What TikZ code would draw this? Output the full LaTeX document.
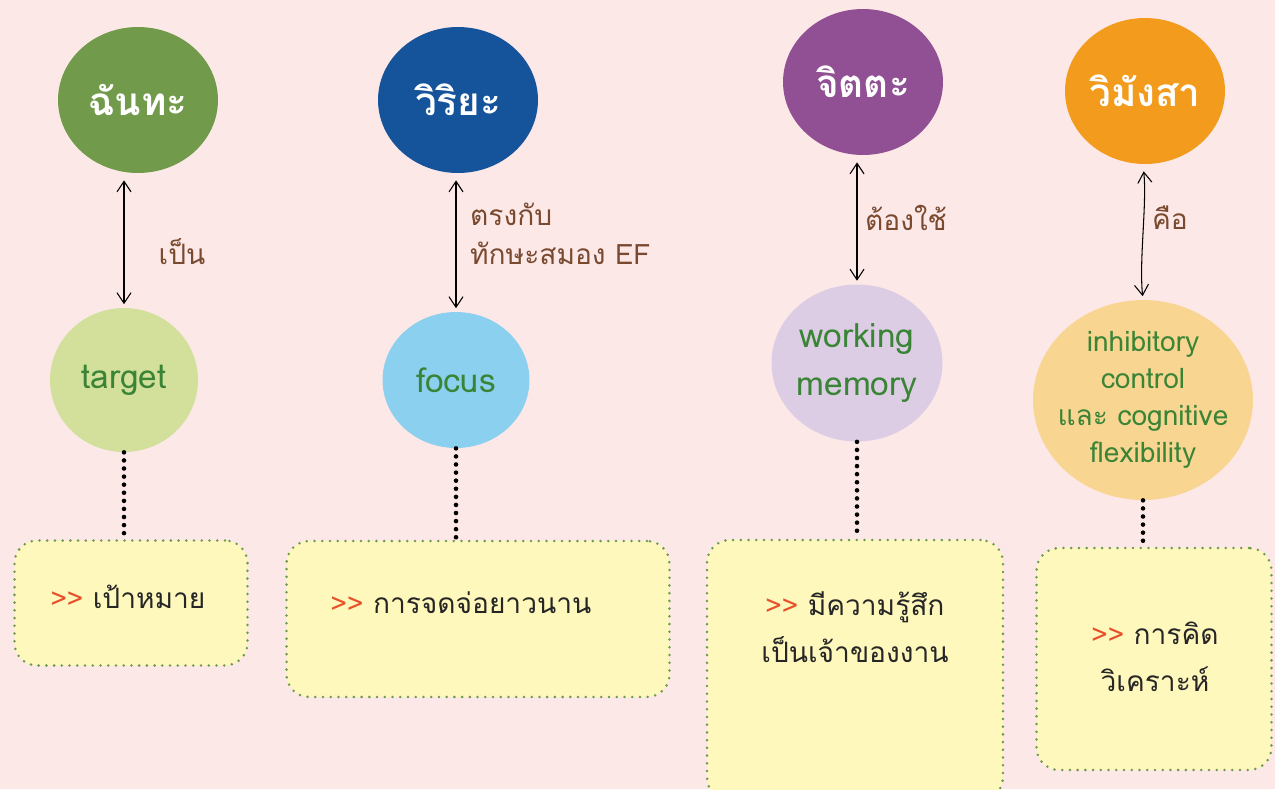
\documentclass[tikz,border=0pt]{standalone}
\usepackage{fontspec}
\setmainfont[Script=Thai]{Loma}
\usetikzlibrary{shapes.geometric,arrows.meta,positioning}

\definecolor{bgpink}{HTML}{FDE8E8}
\definecolor{chanda}{HTML}{719A4B}
\definecolor{viriya}{HTML}{15549A}
\definecolor{citta}{HTML}{905093}
\definecolor{vimamsa}{HTML}{F29B1C}
\definecolor{lgreen}{HTML}{D3E09B}
\definecolor{lblue}{HTML}{8CD0F0}
\definecolor{llilac}{HTML}{DCCDE4}
\definecolor{lorange}{HTML}{F9D592}
\definecolor{notefill}{HTML}{FFF8BC}
\definecolor{noteedge}{HTML}{6E9A4C}
\definecolor{skillgreen}{HTML}{3A8436}
\definecolor{linkbrown}{HTML}{7A4A30}
\definecolor{arrowred}{HTML}{E8502A}

\tikzset{
  virtue/.style={
    shape = ellipse,
    fill = #1,
    text = white,
    inner sep = -12pt,
    minimum width = 3.2cm,
    minimum height = 2.92cm,
    font = \fontsize{22}{26}\selectfont\bfseries
  },
  skill/.style={
    shape = ellipse,
    fill = #1,
    text = skillgreen,
    inner sep = -12pt,
    align = center,
    font = \fontsize{19}{21}\selectfont
  },
}
\tikzset{
  note/.style={
    draw = noteedge,
    fill = notefill,
    rounded corners = 0.45cm,
    line width = 1.6pt,
    dash pattern = on 0pt off 4.4pt,
    line cap = round,
    inner sep = 0pt
  },
  notetext/.style={
    align = center,
    text = black!85,
    font = \fontsize{16}{27}\selectfont
  },
  link/.style={
    {Straight Barb[length=6pt,width=8pt]}-{Straight Barb[length=6pt,width=8pt]},
    semithick,
    shorten <= 4pt,
    shorten >= 2pt
  },
  linklabel/.style={
    text = linkbrown,
    align = left,
    font = \fontsize{16}{22}\selectfont
  },
  dots/.style={
    line width = 2.6pt,
    dash pattern = on 0pt off 4.6pt,
    line cap = round
  },
}
\newcommand{\more}{\textcolor{arrowred}{>{}>}}

\begin{document}
\begin{tikzpicture}[x=0.02cm, y=-0.02cm]
\useasboundingbox (0,0) rectangle (1275,789);
\fill[bgpink] (0,0) rectangle (1275,789);

% top row
\node[virtue=chanda]  (c1) at (138,100) {ฉันทะ};
\node[virtue=viriya]  (c2) at (458,100) {วิริยะ};
\node[virtue=citta]   (c3) at (863,82)  {จิตตะ};
\node[virtue=vimamsa] (c4) at (1145,91) {วิมังสา};

% EF skills
\node[skill=lgreen, minimum width=2.96cm, minimum height=2.88cm]  (s1) at (124,380) {target};
\node[skill=lblue, minimum width=2.94cm, minimum height=2.72cm]   (s2) at (456,380) {focus};
\node[skill=llilac, minimum width=3.42cm, minimum height=3.14cm,
      font=\fontsize{19}{27}\selectfont]                           (s3) at (857,363) {working\\memory};
\node[skill=lorange, minimum width=4.4cm, minimum height=4cm,
      font=\fontsize{16}{21}\selectfont]                           (s4) at (1143,400) {inhibitory\\control\\และ cognitive\\flexibility};

\draw[link] (c1.south -| s1.north) -- (s1.north);
\draw[link] (c2.south -| s2.north) -- (s2.north);
\draw[link] (c3.south -| s3.north) -- (s3.north);
\draw[link] (c4.south -| s4.north) .. controls +(4,40) and +(-4,-40) .. (s4.north);

\node[linklabel] (l1) at (182,252) {เป็น};
\node[linklabel, anchor=west] (l2) at (464,234) {ตรงกับ\\ทักษะสมอง EF};
\node[linklabel] (l3) at (906,218) {ต้องใช้};
\node[linklabel] (l4) at (1170,218) {คือ};

% notes
\node[note, minimum width=4.66cm, minimum height=2.5cm]  (n1) at (131,603) {};
\node[note, minimum width=7.66cm, minimum height=3.12cm] (n2) at (478,619) {};
\node[note, minimum width=5.92cm, minimum height=5.2cm]  (n3) at (855,670) {};
\node[note, minimum width=4.7cm, minimum height=4.44cm]  (n4) at (1154,659) {};

\node[notetext] (t1) at (128,597) {\more{} เป้าหมาย};
\node[notetext] (t2) at (461,603) {\more{} การจดจ่อยาวนาน};
\node[notetext] (t3) at (855,627) {\more{} มีความรู้สึก\\เป็นเจ้าของงาน};
\node[notetext] (t4) at (1155,657) {\more{} การคิด\\วิเคราะห์};

\foreach \i in {1,...,4}{
  \draw[dots] (s\i.south) -- (s\i.south |- n\i.north); }
\end{tikzpicture}
\end{document}
